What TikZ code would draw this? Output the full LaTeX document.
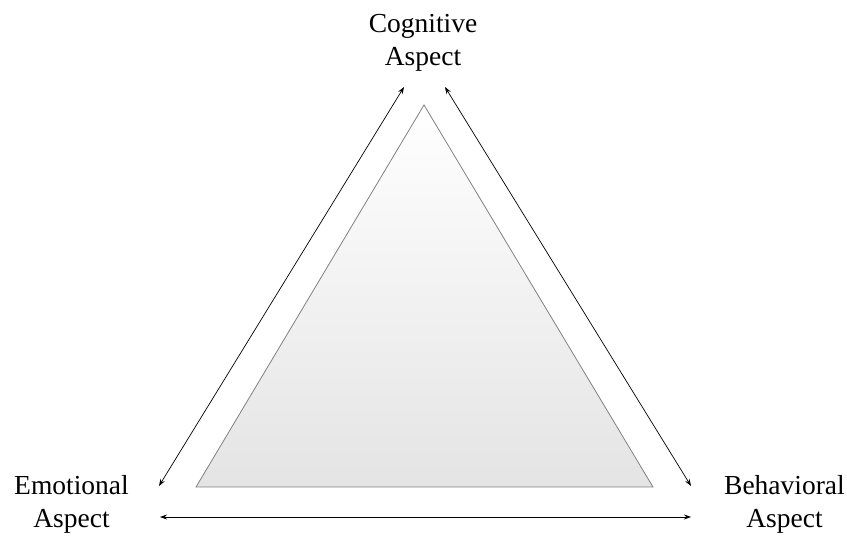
\documentclass[tikz,border=0pt]{standalone}
\usepackage{fontspec}
\setmainfont{Liberation Serif}
\definecolor{EdgeGray}{RGB}{128,128,128}
\definecolor{FillLow} {RGB}{228,228,228}
\usetikzlibrary{arrows.meta,positioning}

\begin{document}
\begin{tikzpicture}[x=1pt,y=-1pt,
    aspect/.style={align=center,inner sep=0pt,
                   font=\fontsize{27.5}{33}\selectfont},
    link/.style={{Stealth[length=7pt,width=5pt]}-{Stealth[length=7pt,width=5pt]},
                 line width=0.7pt}]
  \useasboundingbox (0,0) rectangle (847,537);
  %% Triangle
  \coordinate (top) at (424,105);
  \coordinate (bl)  at (196,487);
  \coordinate (br)  at (653,487);
  \draw[EdgeGray,line width=0.8pt,top color=white,bottom color=FillLow]
       (top)--(br)--(bl)--cycle;
  %% Labels
  \node[aspect] (cog) at (423,42.5) {Cognitive\\Aspect};
  \node[aspect] (emo) at (71.5,504.5) {Emotional\\Aspect};
  \node[aspect] (beh) at (784.5,504.5) {Behavioral\\Aspect};
  %% Arrow ends
  \coordinate (cogL) at (404,87);
  \coordinate (cogR) at (445,87);
  \coordinate (emoU) at (159,486);
  \coordinate (emoD) at (160,517);
  \coordinate (behU) at (691,486);
  \coordinate (behD) at (691,517);
  %% Links
  \draw[link] (emoU)--(cogL);
  \draw[link] (cogR)--(behU);
  \draw[link] (emoD)--(behD);
\end{tikzpicture}
\end{document}
